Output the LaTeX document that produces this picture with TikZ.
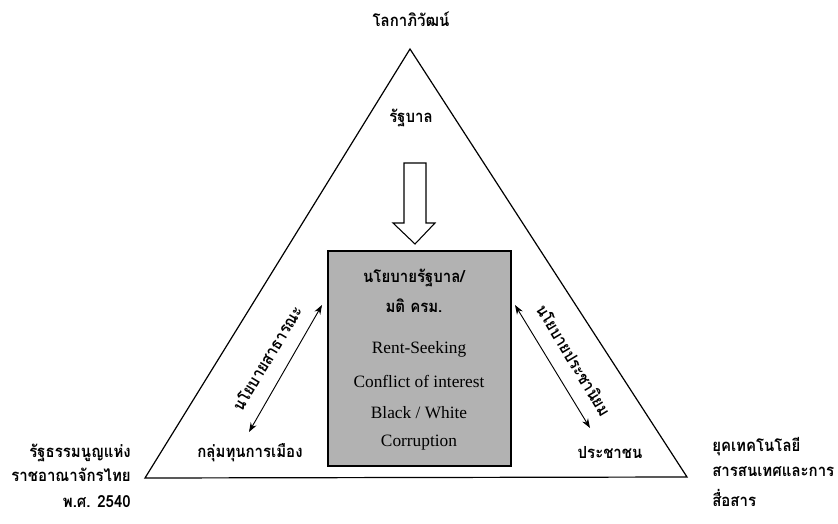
\documentclass[tikz,border=0pt]{standalone}
\usepackage{fontspec}
\setmainfont{Liberation Serif}
\newfontfamily\thai[Script=Thai,FakeStretch=0.9]{Loma}
\usetikzlibrary{arrows.meta}
\definecolor{boxgray}{RGB}{178,178,178}
\begin{document}
\begin{tikzpicture}[x=0.75pt,y=-0.75pt,
  thaitxt/.style={font={\thai\bfseries\fontsize{12.5}{14}\selectfont}, inner sep=0pt},
  boxtxt/.style={font={\fontsize{13}{15}\selectfont}, inner sep=0pt},
  tri/.style={draw=black, line width=0.9pt},
  dbl/.style={{Stealth[length=7pt,width=5pt]}-{Stealth[length=7pt,width=5pt]}, line width=0.7pt},
  centerbox/.style={draw=black, line width=1pt, fill=boxgray, minimum width=137.25pt, minimum height=161.25pt, inner sep=0pt}]
\useasboundingbox (0,0) rectangle (838,524);
% triangle
\coordinate (apex) at (410,49);
\coordinate (bl) at (145,478);
\coordinate (br) at (687,477);
\draw[tri] (apex) -- (br) -- (bl) -- cycle;
% central box
\node[centerbox] (box) at (419.5,358.5) {};
\node[thaitxt] (b1) at (414,278) {นโยบายรัฐบาล/};
\node[thaitxt] (b2) at (414,306) {มติ ครม.};
\node[boxtxt] (b3) at (419,349) {Rent-Seeking};
\node[boxtxt] (b4) at (419,381) {Conflict of interest};
\node[boxtxt] (b5) at (419,413) {Black / White};
\node[boxtxt] (b6) at (419,443) {Corruption};
% hollow arrow
\draw[line width=0.8pt, fill=white] (404,163) -- (426,163) -- (426,223) -- (435,223) -- (415,244) -- (393,223) -- (404,223) -- cycle;
% top labels
\node[thaitxt] (glob) at (411,19) {โลกาภิวัฒน์};
\node[thaitxt] (gov) at (411,118) {รัฐบาล};
% double arrows
\coordinate (la1) at (322,305);
\coordinate (la2) at (249,432);
\draw[dbl] (la1) -- (la2);
\coordinate (ra1) at (515,305);
\coordinate (ra2) at (590,428);
\draw[dbl] (ra1) -- (ra2);
\node[thaitxt, rotate=59] (lpol) at (267,358) {นโยบายสาธารณะ};
\node[thaitxt, rotate=-59] (rpol) at (574,360) {นโยบายประชานิยม};
% corner inner labels
\node[thaitxt] (cap) at (250,453) {กลุ่มทุนการเมือง};
\node[thaitxt] (people) at (610,453) {ประชาชน};
% outer labels
\node[thaitxt, anchor=east] (c1) at (131,453) {รัฐธรรมนูญแห่ง};
\node[thaitxt, anchor=east] (c2) at (131,475) {ราชอาณาจักรไทย};
\node[thaitxt, anchor=east] (c3) at (131,502) {พ.ศ. 2540};
\node[thaitxt, anchor=west] (t1) at (712,447) {ยุคเทคโนโลยี};
\node[thaitxt, anchor=west] (t2) at (712,472) {สารสนเทศและการ};
\node[thaitxt, anchor=west] (t3) at (712,498) {สื่อสาร};
\end{tikzpicture}
\end{document}
